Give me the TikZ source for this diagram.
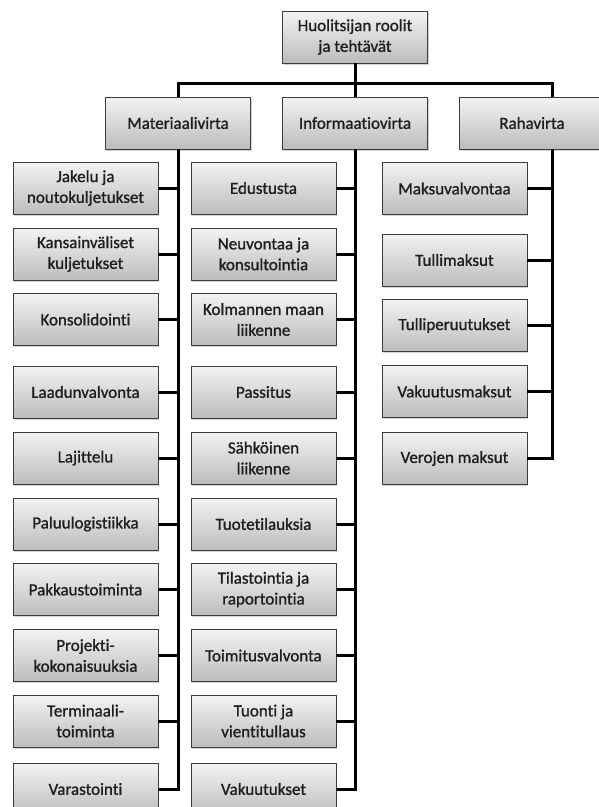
\documentclass[tikz,border=0pt]{standalone}
\usepackage{fontspec}
\setmainfont{Carlito}[Ligatures=NoCommon]
\newfontfamily\rolefont{Carlito}[Ligatures=NoCommon, FakeBold=1.1]
\usepackage{tikz}
\usetikzlibrary{shadows}
\definecolor{boxtop}{HTML}{F3F3F3}
\definecolor{boxbottom}{HTML}{BCBCBC}
\definecolor{boxline}{HTML}{3C3C3C}
\definecolor{roletext}{HTML}{1E1E1E}
\tikzset{
    role/.style={
        draw=boxline, line width=0.8pt,
        top color=boxtop, bottom color=boxbottom,
        drop shadow={shadow xshift=1pt, shadow yshift=-1.5pt, opacity=0.35},
        minimum width=145pt, minimum height=52pt, inner sep=0pt,
        align=center, text=roletext, font=\rolefont\fontsize{17}{20.8}\selectfont
    },
    link/.style={line width=3pt, black},
}

\begin{document}
\begin{tikzpicture}[x=1pt, y=-1pt]
\useasboundingbox (0,0) rectangle (598,807);

\node[role] (top) at (355,37) {Huolitsijan roolit\\ja tehtävät};
\node[role] (mat) at (178,123) {Materiaalivirta};
\node[role] (inf) at (355,123) {Informaatiovirta};
\node[role] (raha) at (532,123) {Rahavirta};

\node[role] (jak) at (85.5,188) {Jakelu ja\\noutokuljetukset};
\node[role] (kan) at (85.5,254) {Kansainväliset\\kuljetukset};
\node[role] (kon) at (85.5,319.5) {Konsolidointi};
\node[role] (laa) at (85.5,392) {Laadunvalvonta};
\node[role] (laj) at (85.5,458) {Lajittelu};
\node[role] (pal) at (85.5,524) {Paluulogistiikka};
\node[role] (pak) at (85.5,589.5) {Pakkaustoiminta};
\node[role] (pro) at (85.5,655.5) {Projekti-\\kokonaisuuksia};
\node[role] (ter) at (85.5,721) {Terminaali-\\toiminta};
\node[role] (var) at (85.5,789) {Varastointi};

\node[role] (edu) at (263.5,188) {Edustusta};
\node[role] (neu) at (263.5,254) {Neuvontaa ja\\konsultointia};
\node[role] (kol) at (263.5,319.5) {Kolmannen maan\\liikenne};
\node[role] (pas) at (263.5,392) {Passitus};
\node[role] (sah) at (263.5,458) {Sähköinen\\liikenne};
\node[role] (tti) at (263.5,524) {Tuotetilauksia};
\node[role] (til) at (263.5,589.5) {Tilastointia ja\\raportointia};
\node[role] (toi) at (263.5,655.5) {Toimitusvalvonta};
\node[role] (tuo) at (263.5,721) {Tuonti ja\\vientitullaus};
\node[role] (vak) at (263.5,789) {Vakuutukset};

\node[role] (mak) at (454.5,188.5) {Maksuvalvontaa};
\node[role] (tul) at (454.5,260) {Tullimaksut};
\node[role] (tpe) at (454.5,325.5) {Tulliperuutukset};
\node[role] (vam) at (454.5,391.5) {Vakuutusmaksut};
\node[role] (ver) at (454.5,458.5) {Verojen maksut};

\coordinate (bus) at (355,83);
\coordinate (rahadrop) at ([xshift=20pt]raha.south);
\coordinate (rahatop) at ([xshift=20pt]raha.north);

\draw[link] (top.south) -- (inf.north);
\draw[link] (mat.north) |- (bus) -| (rahatop);

\draw[link] (mat.south) |- (var.east);
\draw[link] (jak.east) -- (jak.east -| mat.south);
\draw[link] (kan.east) -- (kan.east -| mat.south);
\draw[link] (kon.east) -- (kon.east -| mat.south);
\draw[link] (laa.east) -- (laa.east -| mat.south);
\draw[link] (laj.east) -- (laj.east -| mat.south);
\draw[link] (pal.east) -- (pal.east -| mat.south);
\draw[link] (pak.east) -- (pak.east -| mat.south);
\draw[link] (pro.east) -- (pro.east -| mat.south);
\draw[link] (ter.east) -- (ter.east -| mat.south);

\draw[link] (inf.south) |- (vak.east);
\draw[link] (edu.east) -- (edu.east -| inf.south);
\draw[link] (neu.east) -- (neu.east -| inf.south);
\draw[link] (kol.east) -- (kol.east -| inf.south);
\draw[link] (pas.east) -- (pas.east -| inf.south);
\draw[link] (sah.east) -- (sah.east -| inf.south);
\draw[link] (tti.east) -- (tti.east -| inf.south);
\draw[link] (til.east) -- (til.east -| inf.south);
\draw[link] (toi.east) -- (toi.east -| inf.south);
\draw[link] (tuo.east) -- (tuo.east -| inf.south);

\draw[link] (rahadrop) |- (ver.east);
\draw[link] (mak.east) -- (mak.east -| rahadrop);
\draw[link] (tul.east) -- (tul.east -| rahadrop);
\draw[link] (tpe.east) -- (tpe.east -| rahadrop);
\draw[link] (vam.east) -- (vam.east -| rahadrop);
\end{tikzpicture}
\end{document}
